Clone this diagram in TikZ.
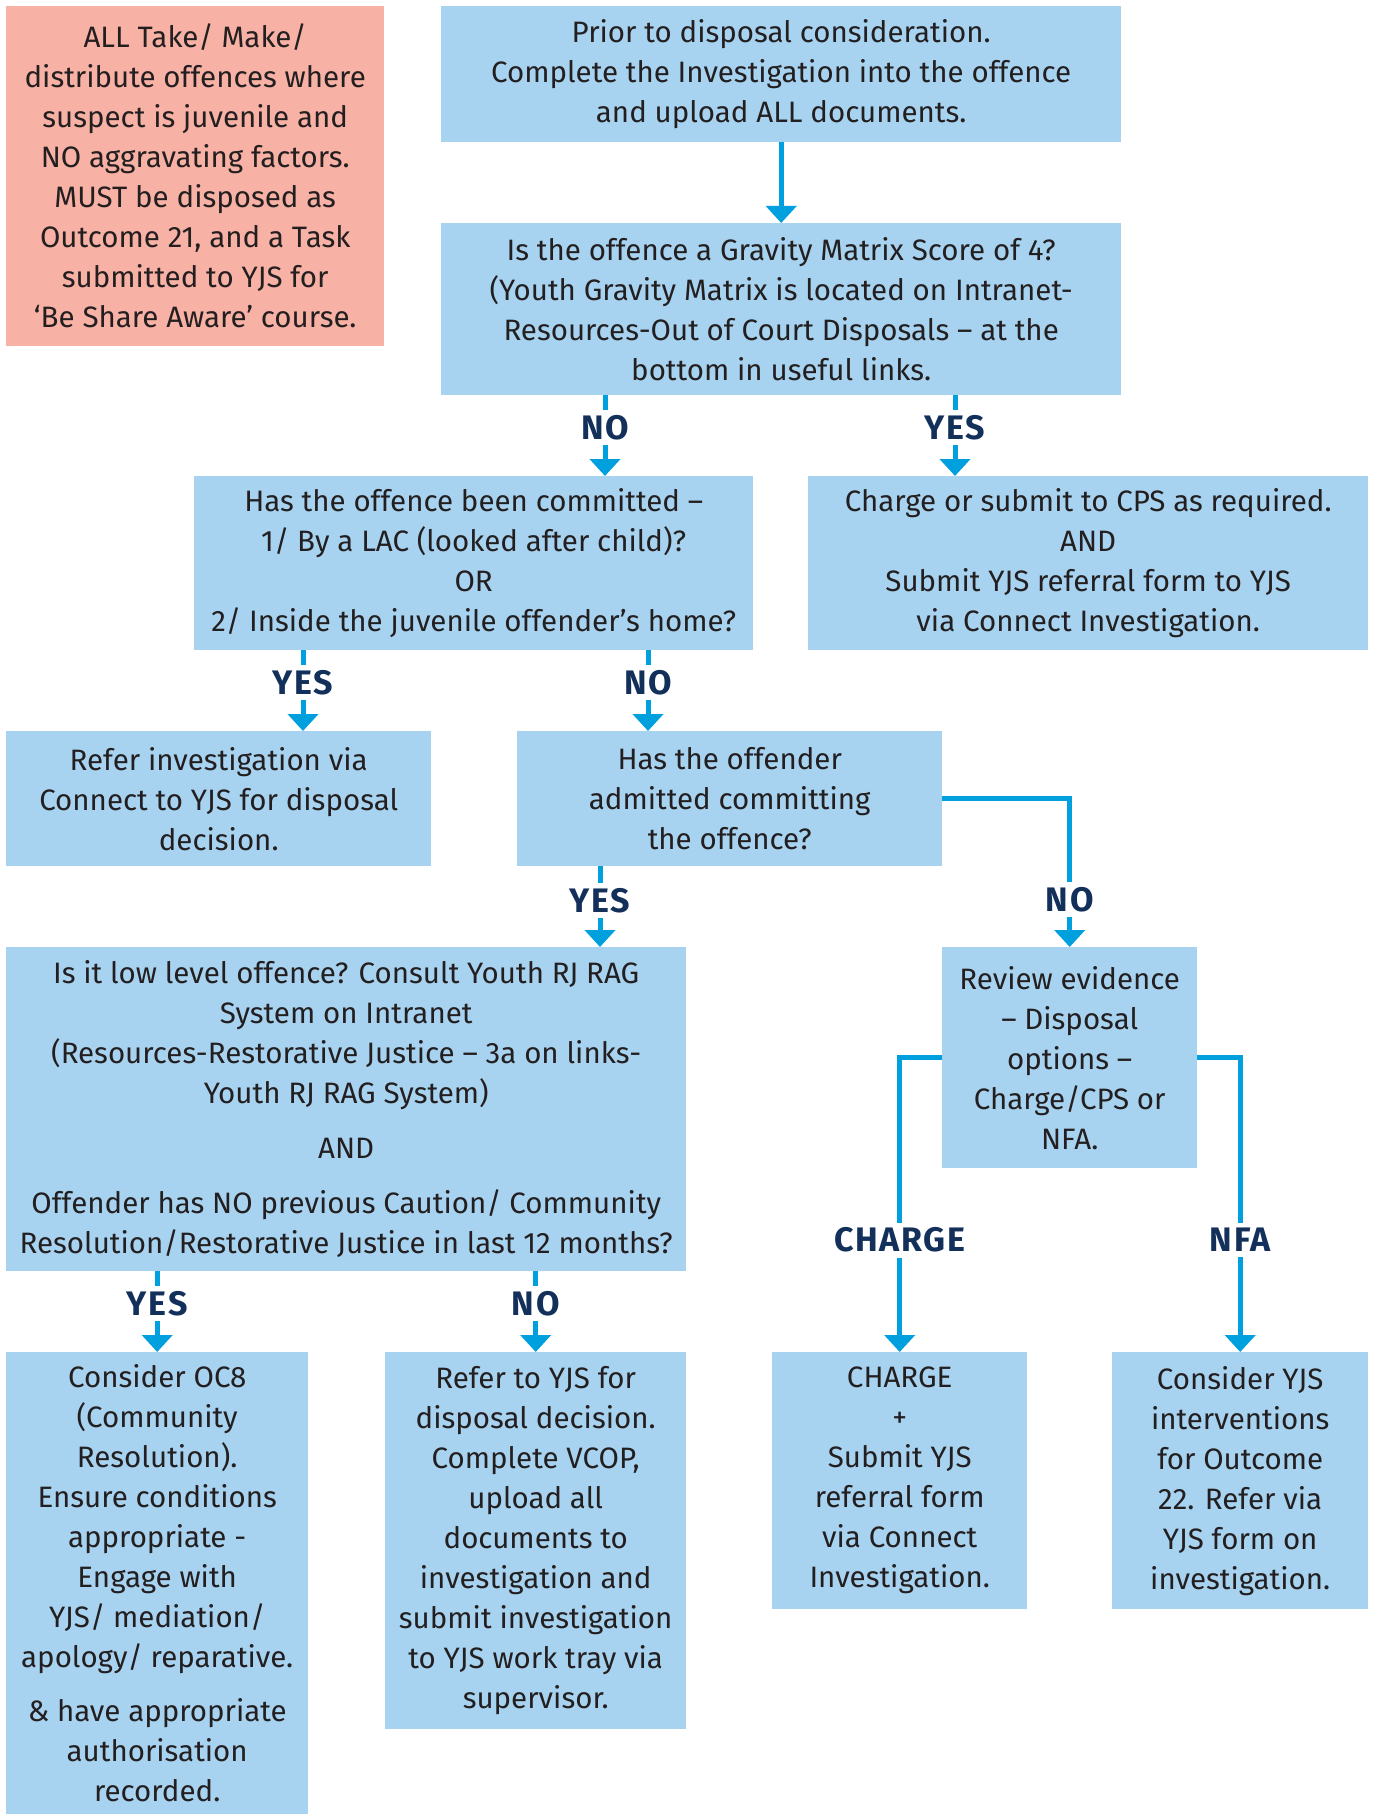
\documentclass[tikz,border=0pt]{standalone}
\usepackage{fontspec}
\setmainfont{Fira Sans}
\usetikzlibrary{arrows.meta,calc}
\definecolor{boxblue}{HTML}{A7D3F0}
\definecolor{boxpink}{HTML}{F8B1A5}
\definecolor{arrblue}{HTML}{00A0DF}
\definecolor{navy}{HTML}{13305B}
\definecolor{txt}{HTML}{231F20}
\begin{document}
\begin{tikzpicture}[x=1pt,y=-1pt,
  box/.style={fill=boxblue, inner sep=0pt, align=center, text=txt, anchor=north west,
    font=\fontsize{29.5}{40}\selectfont},
  pinkbox/.style={box, fill=boxpink},
  arr/.style={draw=arrblue, line width=5pt, -{Triangle[width=30pt,length=17pt]}},
  lbl/.style={fill=white, text=navy, inner sep=5pt,
    font=\fontsize{34}{34}\selectfont\bfseries\addfontfeature{LetterSpace=5}}]
\useasboundingbox (0,0) rectangle (1375,1814);

\node[pinkbox, minimum width=378pt, minimum height=340pt] (pink) at (6,6)
  {ALL Take/ Make/\\distribute offences where\\suspect is juvenile and\\NO aggravating factors.\\MUST be disposed as\\Outcome 21, and a Task\\submitted to YJS for\\‘Be Share Aware’ course.};

\node[box, minimum width=680pt, minimum height=136pt] (top) at (441,6)
  {Prior to disposal consideration.\\Complete the Investigation into the offence\\and upload ALL documents.};

\node[box, minimum width=680pt, minimum height=172pt] (grav) at (441,223)
  {Is the offence a Gravity Matrix Score of 4?\\(Youth Gravity Matrix is located on Intranet-\\Resources-Out of Court Disposals – at the\\bottom in useful links.};

\node[box, minimum width=559pt, minimum height=174pt] (lac) at (194,476)
  {Has the offence been committed –\\1/ By a LAC (looked after child)?\\OR\\2/ Inside the juvenile offender’s home?};

\node[box, minimum width=560pt, minimum height=174pt] (cps) at (808,476)
  {Charge or submit to CPS as required.\\AND\\Submit YJS referral form to YJS\\via Connect Investigation.};

\node[box, minimum width=425pt, minimum height=135pt] (ref) at (6,731)
  {Refer investigation via\\Connect to YJS for disposal\\decision.};

\node[box, minimum width=425pt, minimum height=135pt] (adm) at (517,731)
  {Has the offender\\admitted committing\\the offence?};

\node[box, minimum width=680pt, minimum height=324pt] (rj) at (6,947)
  {Is it low level offence? Consult Youth RJ RAG\\System on Intranet\\(Resources-Restorative Justice – 3a on links-\\Youth RJ RAG System)\\[15pt]AND\\[15pt]Offender has NO previous Caution/ Community\\Resolution/Restorative Justice in last 12 months?};

\node[box, minimum width=255pt, minimum height=221pt] (rev) at (942,947)
  {Review evidence\\– Disposal\\options –\\Charge/CPS or\\NFA.};

\node[box, minimum width=302pt, minimum height=462pt] (oc8) at (6,1352)
  {Consider OC8\\(Community\\Resolution).\\Ensure conditions\\appropriate -\\Engage with\\YJS/ mediation/\\apology/ reparative.\\[14pt]\& have appropriate\\authorisation\\recorded.};

\node[box, minimum width=301pt, minimum height=377pt] (ryjs) at (385,1352)
  {Refer to YJS for\\disposal decision.\\Complete VCOP,\\upload all\\documents to\\investigation and\\submit investigation\\to YJS work tray via\\supervisor.};

\node[box, minimum width=255pt, minimum height=257pt] (chg) at (772,1352)
  {CHARGE\\+\\Submit YJS\\referral form\\via Connect\\Investigation.};

\node[box, minimum width=256pt, minimum height=257pt] (nfa) at (1112,1352)
  {Consider YJS\\interventions\\for Outcome\\22. Refer via\\YJS form on\\investigation.};

\coordinate (xgn) at (605,0);
\coordinate (xgy) at (955,0);
\coordinate (xly) at (303,0);
\coordinate (xln) at (648,0);
\coordinate (xay) at (600,0);

\draw[arr] (top.south) -- (grav.north);
\draw[arr] (grav.south -| xgn) -- node[lbl,pos=0.4]{NO} (lac.north -| xgn);
\draw[arr] (grav.south -| xgy) -- node[lbl,pos=0.4]{YES} (cps.north -| xgy);
\draw[arr] (lac.south -| xly) -- node[lbl,pos=0.4]{YES} (ref.north -| xly);
\draw[arr] (lac.south -| xln) -- node[lbl,pos=0.4]{NO} (adm.north -| xln);
\draw[arr] (adm.south -| xay) -- node[lbl,pos=0.42]{YES} (rj.north -| xay);
\draw[arr] (adm.east) -| node[lbl,pos=0.84]{NO} (rev.north);
\draw[arr] (rj.south -| oc8.north) -- node[lbl,pos=0.4]{YES} (oc8.north);
\draw[arr] (rj.south -| ryjs.north) -- node[lbl,pos=0.4]{NO} (ryjs.north);
\draw[arr] (rev.west) -| node[lbl,pos=0.81]{CHARGE} (chg.north);
\draw[arr] (rev.east) -| node[lbl,pos=0.81]{NFA} (nfa.north);
\end{tikzpicture}
\end{document}
